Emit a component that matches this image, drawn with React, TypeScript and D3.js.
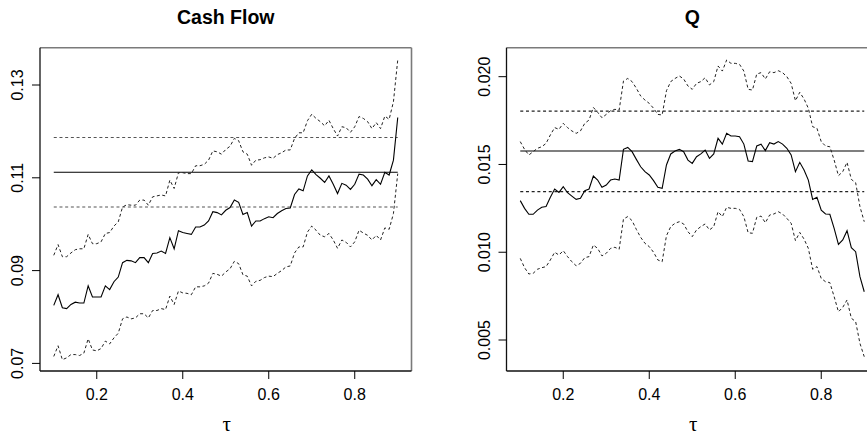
import React from "react";
import * as d3 from "d3";

const tau: number[] = d3.range(81).map((i) => Math.round((0.1 + i * 0.01) * 100) / 100);

const cfEst = [
  0.0825,0.0848,0.0820,0.0818,0.0827,0.0832,0.0830,0.0830,0.0867,0.0843,
  0.0843,0.0843,0.0867,0.0859,0.0876,0.0886,0.0917,0.0922,0.0921,0.0917,
  0.0928,0.0928,0.0917,0.0937,0.0938,0.0942,0.0937,0.0971,0.0947,0.0986,
  0.0982,0.0980,0.0978,0.0994,0.0994,0.0998,0.1007,0.1027,0.1025,0.1020,
  0.1030,0.1036,0.1052,0.1047,0.1021,0.1025,0.0996,0.1007,0.1007,0.1012,
  0.1016,0.1014,0.1023,0.1029,0.1034,0.1035,0.1064,0.1076,0.1072,0.1104,
  0.1117,0.1107,0.1099,0.1090,0.1104,0.1086,0.1066,0.1088,0.1084,0.1075,
  0.1086,0.1108,0.1106,0.1097,0.1083,0.1096,0.1086,0.1112,0.1106,0.1138,
  0.1230,
];
const cfUpper = [
  0.0933,0.0956,0.0930,0.0930,0.0938,0.0945,0.0947,0.0947,0.0978,0.0958,
  0.0958,0.0962,0.0980,0.0982,0.0996,0.1005,0.1037,0.1042,0.1041,0.1041,
  0.1052,0.1052,0.1041,0.1059,0.1061,0.1063,0.1061,0.1095,0.1077,0.1111,
  0.1111,0.1109,0.1109,0.1126,0.1126,0.1129,0.1138,0.1158,0.1156,0.1151,
  0.1161,0.1168,0.1185,0.1180,0.1156,0.1151,0.1127,0.1138,0.1139,0.1143,
  0.1145,0.1142,0.1150,0.1154,0.1160,0.1160,0.1185,0.1197,0.1197,0.1223,
  0.1237,0.1228,0.1221,0.1212,0.1224,0.1206,0.1190,0.1210,0.1208,0.1198,
  0.1210,0.1232,0.1228,0.1221,0.1206,0.1219,0.1206,0.1233,0.1226,0.1264,
  0.1354,
];
const cfLower = [
  0.0715,0.0738,0.0708,0.0712,0.0719,0.0719,0.0717,0.0722,0.0753,0.0729,
  0.0727,0.0732,0.0748,0.0742,0.0755,0.0765,0.0796,0.0800,0.0796,0.0798,
  0.0807,0.0807,0.0798,0.0814,0.0814,0.0818,0.0816,0.0845,0.0827,0.0856,
  0.0852,0.0851,0.0848,0.0865,0.0865,0.0867,0.0873,0.0894,0.0892,0.0888,
  0.0897,0.0904,0.0920,0.0915,0.0891,0.0888,0.0867,0.0877,0.0879,0.0885,
  0.0888,0.0887,0.0894,0.0900,0.0908,0.0910,0.0938,0.0951,0.0951,0.0983,
  0.0996,0.0987,0.0976,0.0973,0.0980,0.0966,0.0948,0.0966,0.0961,0.0951,
  0.0962,0.0987,0.0981,0.0976,0.0966,0.0976,0.0966,0.0992,0.0989,0.1023,
  0.1109,
];
const cfOls = [0.1112, 0.1187, 0.1037];

const qEst = [
  0.01294,0.01250,0.01216,0.01216,0.01240,0.01256,0.01260,0.01313,0.01360,0.01341,
  0.01373,0.01339,0.01320,0.01301,0.01307,0.01351,0.01360,0.01434,0.01411,0.01370,
  0.01383,0.01411,0.01417,0.01411,0.01586,0.01597,0.01573,0.01529,0.01487,0.01459,
  0.01440,0.01408,0.01370,0.01364,0.01497,0.01560,0.01577,0.01586,0.01573,0.01525,
  0.01506,0.01544,0.01560,0.01582,0.01535,0.01560,0.01649,0.01616,0.01677,0.01662,
  0.01662,0.01658,0.01616,0.01520,0.01516,0.01605,0.01615,0.01579,0.01624,0.01616,
  0.01630,0.01616,0.01592,0.01554,0.01459,0.01512,0.01468,0.01411,0.01301,0.01313,
  0.01240,0.01218,0.01216,0.01136,0.01045,0.01070,0.01123,0.01026,0.01003,0.00861,
  0.00775,
];
const qUpper = [
  0.01630,0.01586,0.01554,0.01573,0.01592,0.01601,0.01620,0.01668,0.01710,0.01700,
  0.01734,0.01710,0.01691,0.01677,0.01691,0.01734,0.01753,0.01825,0.01797,0.01766,
  0.01785,0.01806,0.01814,0.01810,0.01975,0.01990,0.01972,0.01934,0.01890,0.01867,
  0.01848,0.01820,0.01785,0.01782,0.01920,0.01972,0.01990,0.02004,0.01987,0.01947,
  0.01928,0.01962,0.01972,0.01994,0.01953,0.01972,0.02061,0.02032,0.02095,0.02076,
  0.02076,0.02070,0.02032,0.01928,0.01924,0.02015,0.02023,0.01987,0.02028,0.02023,
  0.02034,0.02023,0.02000,0.01962,0.01863,0.01911,0.01873,0.01820,0.01715,0.01706,
  0.01630,0.01605,0.01601,0.01525,0.01436,0.01459,0.01512,0.01415,0.01396,0.01260,
  0.01174,
];
const qLower = [
  0.00965,0.00912,0.00876,0.00880,0.00903,0.00912,0.00918,0.00956,0.01000,0.00984,
  0.01009,0.00975,0.00946,0.00923,0.00937,0.00969,0.00975,0.01041,0.01022,0.00979,
  0.00994,0.01022,0.01028,0.01017,0.01189,0.01203,0.01180,0.01130,0.01085,0.01051,
  0.01032,0.01000,0.00956,0.00946,0.01094,0.01146,0.01165,0.01174,0.01161,0.01117,
  0.01089,0.01127,0.01146,0.01161,0.01127,0.01146,0.01231,0.01203,0.01256,0.01250,
  0.01250,0.01244,0.01203,0.01111,0.01108,0.01199,0.01206,0.01168,0.01212,0.01218,
  0.01231,0.01218,0.01193,0.01165,0.01066,0.01113,0.01075,0.01022,0.00903,0.00918,
  0.00851,0.00832,0.00827,0.00747,0.00661,0.00686,0.00728,0.00624,0.00605,0.00481,
  0.00405,
];
const qOls = [0.01577, 0.01804, 0.01345];

const xTicks = [0.2, 0.4, 0.6, 0.8];
const cfYTicks = [0.07, 0.09, 0.11, 0.13];
const qYTicks = [0.005, 0.01, 0.015, 0.02];
const cfYLabels = ["0.07", "0.09", "0.11", "0.13"];
const qYLabels = ["0.005", "0.010", "0.015", "0.020"];

const FONT = "'Liberation Sans', Arial, Helvetica, sans-serif";

type PanelProps = {
  left: number;
  title: string;
  yDomain: [number, number];
  est: number[];
  upper: number[];
  lower: number[];
  ols: number[];
  yTicks: number[];
  yLabels: string[];
  olsDashColor: string;
};

const TOP = 47.7;
const BOTTOM = 371;
const WIDTH = 371.5;

function Panel(p: PanelProps) {
  const x = d3.scaleLinear().domain([0.068, 0.932]).range([p.left, p.left + WIDTH]);
  const y = d3.scaleLinear().domain(p.yDomain).range([BOTTOM, TOP]);
  const line = d3
    .line<number>()
    .x((_, i) => x(tau[i]))
    .y((d) => y(d));
  const x0 = x(tau[0]);
  const x1 = x(tau[tau.length - 1]);
  const right = p.left + WIDTH;
  const cx = (p.left + right) / 2;
  return (
    <g>
      <text x={cx} y={24} textAnchor="middle" fontFamily={FONT} fontWeight="bold" fontSize={19.5}>
        {p.title}
      </text>
      {/* OLS lines */}
      <line x1={x0} x2={x1} y1={y(p.ols[0])} y2={y(p.ols[0])} stroke="#000" strokeWidth={1.1} />
      <line x1={x0} x2={x1} y1={y(p.ols[1])} y2={y(p.ols[1])} stroke={p.olsDashColor} strokeWidth={1.1} strokeDasharray="3,2.7" />
      <line x1={x0} x2={x1} y1={y(p.ols[2])} y2={y(p.ols[2])} stroke={p.olsDashColor} strokeWidth={1.1} strokeDasharray="3,2.7" />
      {/* Quantile regression lines */}
      <path d={line(p.upper) || ""} fill="none" stroke="#222" strokeWidth={1} strokeDasharray="3,2.5" />
      <path d={line(p.lower) || ""} fill="none" stroke="#222" strokeWidth={1} strokeDasharray="3,2.5" />
      <path d={line(p.est) || ""} fill="none" stroke="#000" strokeWidth={1.1} />
      {/* box: top/right gray */}
      <line x1={p.left} x2={right} y1={TOP} y2={TOP} stroke="#7a7a7a" strokeWidth={1.6} />
      <line x1={right} x2={right} y1={TOP} y2={BOTTOM} stroke="#7a7a7a" strokeWidth={1.6} />
      <line x1={p.left} x2={right} y1={BOTTOM} y2={BOTTOM} stroke="#111" strokeWidth={1.3} />
      <line x1={p.left} x2={p.left} y1={TOP} y2={BOTTOM} stroke="#111" strokeWidth={1.3} />
      {/* x axis */}
      {xTicks.map((t) => (
        <g key={"x" + t}>
          <line x1={x(t)} x2={x(t)} y1={BOTTOM} y2={BOTTOM + 8} stroke="#000" strokeWidth={1} />
          <text x={x(t)} y={BOTTOM + 29} textAnchor="middle" fontFamily={FONT} fontSize={16}>
            {String(t)}
          </text>
        </g>
      ))}
      {/* y axis */}
      {p.yTicks.map((t, i) => (
        <g key={"y" + t}>
          <line x1={p.left - 8} x2={p.left} y1={y(t)} y2={y(t)} stroke="#000" strokeWidth={1} />
          <text
            transform={`translate(${p.left - 17},${y(t)}) rotate(-90)`}
            textAnchor="middle"
            fontFamily={FONT}
            fontSize={16}
          >
            {p.yLabels[i]}
          </text>
        </g>
      ))}
      <text x={cx + 1} y={431} textAnchor="middle" fontFamily="'Liberation Serif', 'DejaVu Serif', serif" fontSize={21}>
        τ
      </text>
    </g>
  );
}

export default function App() {
  return (
    <svg
      width={867}
      height={436}
      style={{ position: "absolute", left: 0, top: 0, background: "#fff" }}
    >
      <rect x={0} y={0} width={867} height={436} fill="#fff" />
      <Panel
        left={40}
        title="Cash Flow"
        yDomain={[0.06836, 0.13804]}
        est={cfEst}
        upper={cfUpper}
        lower={cfLower}
        ols={cfOls}
        yTicks={cfYTicks}
        yLabels={cfYLabels}
        olsDashColor="#555"
      />
      <Panel
        left={506.5}
        title="Q"
        yDomain={[0.003235, 0.021651]}
        est={qEst}
        upper={qUpper}
        lower={qLower}
        ols={qOls}
        yTicks={qYTicks}
        yLabels={qYLabels}
        olsDashColor="#222"
      />
    </svg>
  );
}
